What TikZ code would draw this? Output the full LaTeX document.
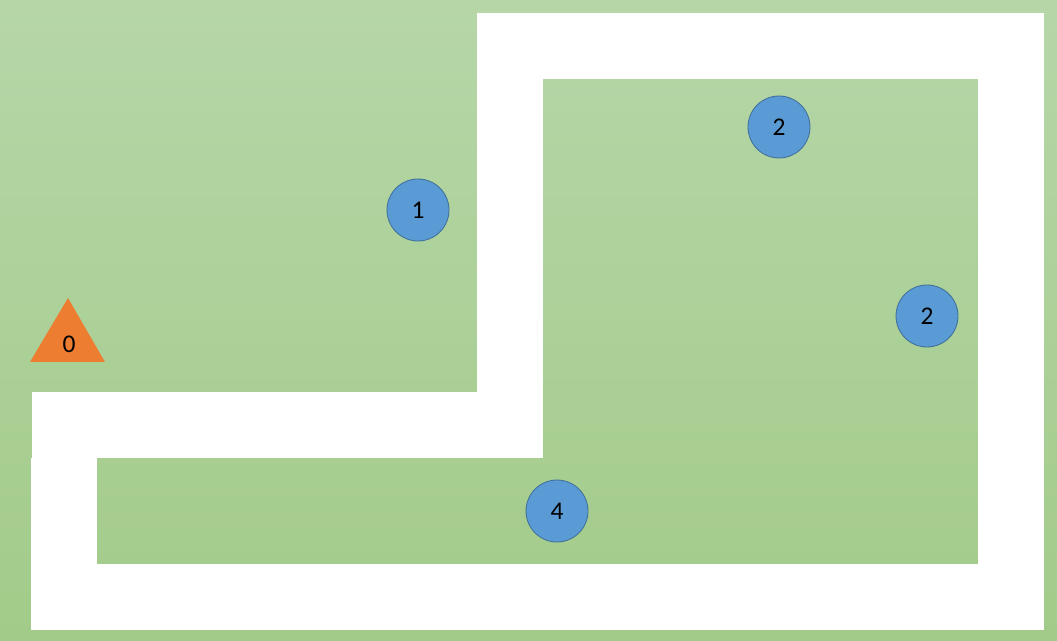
\documentclass[tikz,border=0pt]{standalone}
\usepackage{fontspec}
\setmainfont{Carlito}
\usepackage{tikz}
\definecolor{grasstop}{HTML}{B6D6A8}
\definecolor{grassbot}{HTML}{A2CB89}
\definecolor{stonefill}{HTML}{5B9BD5}
\definecolor{stoneline}{HTML}{41719C}
\definecolor{startfill}{HTML}{ED7D31}
\tikzset{
	stone/.style={circle, fill=stonefill, draw=stoneline, line width=0.5pt, minimum size=1.24cm, inner sep=0pt, font=\fontsize{14.5}{17}\selectfont},
	road/.style={fill=white}
}

\begin{document}
\begin{tikzpicture}[x=0.02cm, y=-0.02cm]
			%%%%% START %%%%%
			
			\shade[top color=grasstop, bottom color=grassbot] (0, 0) rectangle (1057, 641);
			\useasboundingbox (0, 0) rectangle (1057, 641);
			
			\fill[road] (477, 13) rectangle (1044, 79);
			\fill[road] (978, 13) rectangle (1044, 630);
			\fill[road] (31, 564) rectangle (1044, 630);
			\fill[road] (477, 13) rectangle (543, 458);
			\fill[road] (32, 392) rectangle (543, 458);
			\fill[road] (31, 458) rectangle (97, 630);
			
			\fill[startfill] (30, 362) -- (105, 362) -- (68, 298) -- cycle;
			\node[font=\fontsize{14.5}{17}\selectfont] (start) at (69, 344) {0};
			
			\node[stone] (stoneA) at (418, 210) {1};
			\node[stone] (stoneB) at (779, 127) {2};
			\node[stone] (stoneC) at (927, 316) {2};
			\node[stone] (stoneD) at (557, 511) {4};
			
			%%%%% END %%%%%
\end{tikzpicture}
\end{document}
